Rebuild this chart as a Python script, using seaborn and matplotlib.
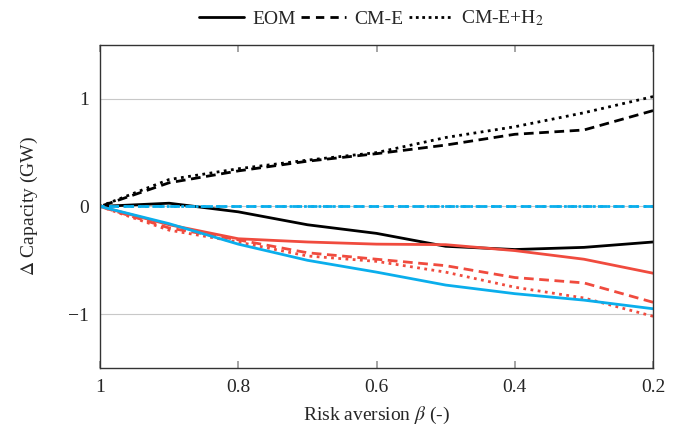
import matplotlib
matplotlib.use("Agg")
import matplotlib.pyplot as plt
import seaborn as sns
import pandas as pd

# risk aversion beta
beta = [1.0, 0.9, 0.8, 0.7, 0.6, 0.5, 0.4, 0.3, 0.2]

# black lines
black_eom = [0.0, 0.03, -0.05, -0.17, -0.25, -0.37, -0.40, -0.38, -0.33]
black_cme = [0.0, 0.22, 0.33, 0.42, 0.49, 0.57, 0.67, 0.71, 0.89]
black_cmeh2 = [0.0, 0.25, 0.35, 0.43, 0.50, 0.64, 0.74, 0.87, 1.02]
# red lines
red_eom = [0.0, -0.17, -0.30, -0.33, -0.35, -0.355, -0.41, -0.49, -0.62]
red_cme = [0.0, -0.20, -0.31, -0.43, -0.49, -0.55, -0.66, -0.71, -0.89]
red_cmeh2 = [0.0, -0.22, -0.33, -0.46, -0.51, -0.61, -0.75, -0.85, -1.02]
# blue lines
blue_eom = [0.0, -0.16, -0.35, -0.50, -0.61, -0.73, -0.81, -0.87, -0.95]
blue_cme = [0.0, 0.0, 0.0, 0.0, 0.0, 0.0, 0.0, 0.0, 0.0]
blue_cmeh2 = [0.0, 0.0, 0.0, 0.0, 0.0, 0.0, 0.0, 0.0, 0.0]

RED = "#F04B3E"
BLUE = "#0AAEEC"

sns.set_theme(style="white")
plt.rcParams['font.family'] = ['Liberation Serif', 'DejaVu Serif']
plt.rcParams['mathtext.fontset'] = 'stix'

fig = plt.figure(figsize=(6.82, 4.36), dpi=100)
ax = fig.add_axes([0.1466, 0.156, 0.811, 0.741])

for g in [-1, 0, 1]:
    ax.axhline(g, color='#c8c8c8', lw=0.8, zorder=0)

DASH = (0, (3.5, 2))
DOT = (0, (1, 1.6))
series = [
    (black_eom, 'black', '-'), (black_cme, 'black', DASH), (black_cmeh2, 'black', DOT),
    (red_eom, RED, '-'), (red_cme, RED, DASH), (red_cmeh2, RED, DOT),
    (blue_eom, BLUE, '-'), (blue_cme, BLUE, DASH), (blue_cmeh2, BLUE, DOT),
]
for vals, col, ls in series:
    df = pd.DataFrame({'beta': beta, 'val': vals})
    sns.lineplot(data=df, x='beta', y='val', color=col, lw=2.0, ax=ax)
    ax.lines[-1].set_linestyle(ls)

ax.set_xlim(1.0, 0.2)
ax.set_ylim(-1.5, 1.5)
ax.set_xticks([1.0, 0.8, 0.6, 0.4, 0.2])
ax.set_xticklabels(['1', '0.8', '0.6', '0.4', '0.2'])
ax.set_yticks([-1, 0, 1])
ax.set_yticklabels(['\u22121', '0', '1'])
ax.tick_params(axis='x', direction='in', length=5, color='#999999', top=True, bottom=True,
               labelsize=14, pad=8)
ax.tick_params(axis='y', direction='in', length=0, labelsize=14, pad=8)
for s in ax.spines.values():
    s.set_color('#333333')
    s.set_linewidth(1.0)

ax.set_xlabel(r'Risk aversion $\beta$ (-)', fontsize=14, labelpad=6)
ax.set_ylabel(r'$\Delta$ Capacity (GW)', fontsize=14, labelpad=20)

handles = [plt.Line2D([], [], color='black', lw=2.0, ls='-'),
           plt.Line2D([], [], color='black', lw=2.0, ls=(0, (3, 2.2))),
           plt.Line2D([], [], color='black', lw=2.0, ls=(0, (1, 1.3)))]
fig.legend(handles, ['EOM', 'CM-E', r'CM-E+H$_2$'], loc='upper center',
           bbox_to_anchor=(0.545, 1.02), ncol=3, frameon=False, fontsize=14,
           handlelength=2.3, handletextpad=0.4, columnspacing=0.3)

fig.savefig('out.png', dpi=100)
